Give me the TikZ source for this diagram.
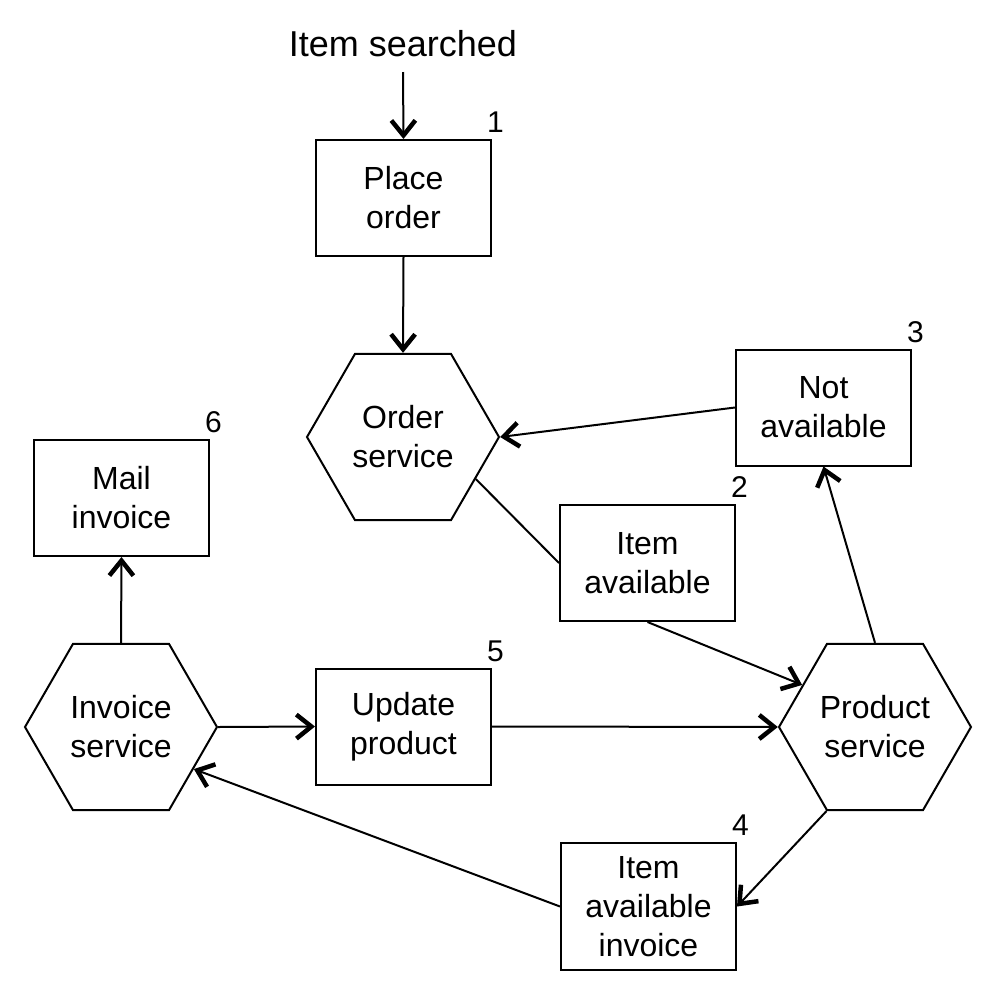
\documentclass[tikz,border=0pt]{standalone}
\usepackage{fontspec}
\setmainfont{Liberation Sans}
\usetikzlibrary{shapes.geometric,arrows.meta}
\begin{document}
\begin{tikzpicture}[x=1pt,y=-1pt,
  every node/.style={font=\fontsize{32}{39}\selectfont, align=center, inner sep=0pt},
  stepbox/.style={draw, line width=2pt, minimum width=175pt, minimum height=116pt},
  hexa/.style={draw, line width=2pt, regular polygon, regular polygon sides=6, minimum size=192pt},
  num/.style={font=\fontsize{30}{36}\selectfont, anchor=south west, inner sep=0pt, xshift=-5pt, yshift=6pt},
  conn/.style={line width=2pt},
  arr/.style={conn, -{Straight Barb[length=15pt,width=24pt,line width=4.5pt 0]}}
]
\useasboundingbox (0,0) rectangle (997,997);
\node[font=\fontsize{36}{42}\selectfont] (top) at (403,44) {Item searched};
\node[stepbox] (po) at (403.5,198) {Place\\order};
\node[hexa] (ord) at (403,437) {Order\\service};
\node[stepbox] (na) at (823.5,407.5) {Not\\available};
\node[stepbox] (ia) at (647.5,563) {Item\\available};
\node[hexa] (prod) at (875,727) {Product\\service};
\node[stepbox] (up) at (403.5,726.5) {Update\\product};
\node[hexa] (inv) at (121,727) {Invoice\\service};
\node[stepbox] (mi) at (121.5,498) {Mail\\invoice};
\node[stepbox, minimum height=127pt] (iai) at (648.5,906.5) {Item\\available\\invoice};

\node[num] (n1) at (po.north east) {1};
\node[num] (n2) at (ia.north east) {2};
\node[num] (n3) at (na.north east) {3};
\node[num] (n4) at (iai.north east) {4};
\node[num] (n5) at (up.north east) {5};
\node[num] (n6) at (mi.north east) {6};

\coordinate (topend) at (403,72);
\draw[arr] (topend) -- (po.north);
\draw[arr] (po.south) -- (ord.north);
\draw[arr] (na.west) -- (ord.east);
\draw[conn] (ord.-30) -- (ia.west);
\draw[arr] (ia.south) -- (prod.150);
\draw[arr] (prod.north) -- (na.south);
\draw[arr] (prod.240) -- (iai.east);
\draw[arr] (up.east) -- (prod.west);
\draw[arr] (inv.east) -- (up.west);
\draw[arr] (iai.west) -- (inv.-30);
\draw[arr] (inv.north) -- (mi.south);
\end{tikzpicture}
\end{document}
